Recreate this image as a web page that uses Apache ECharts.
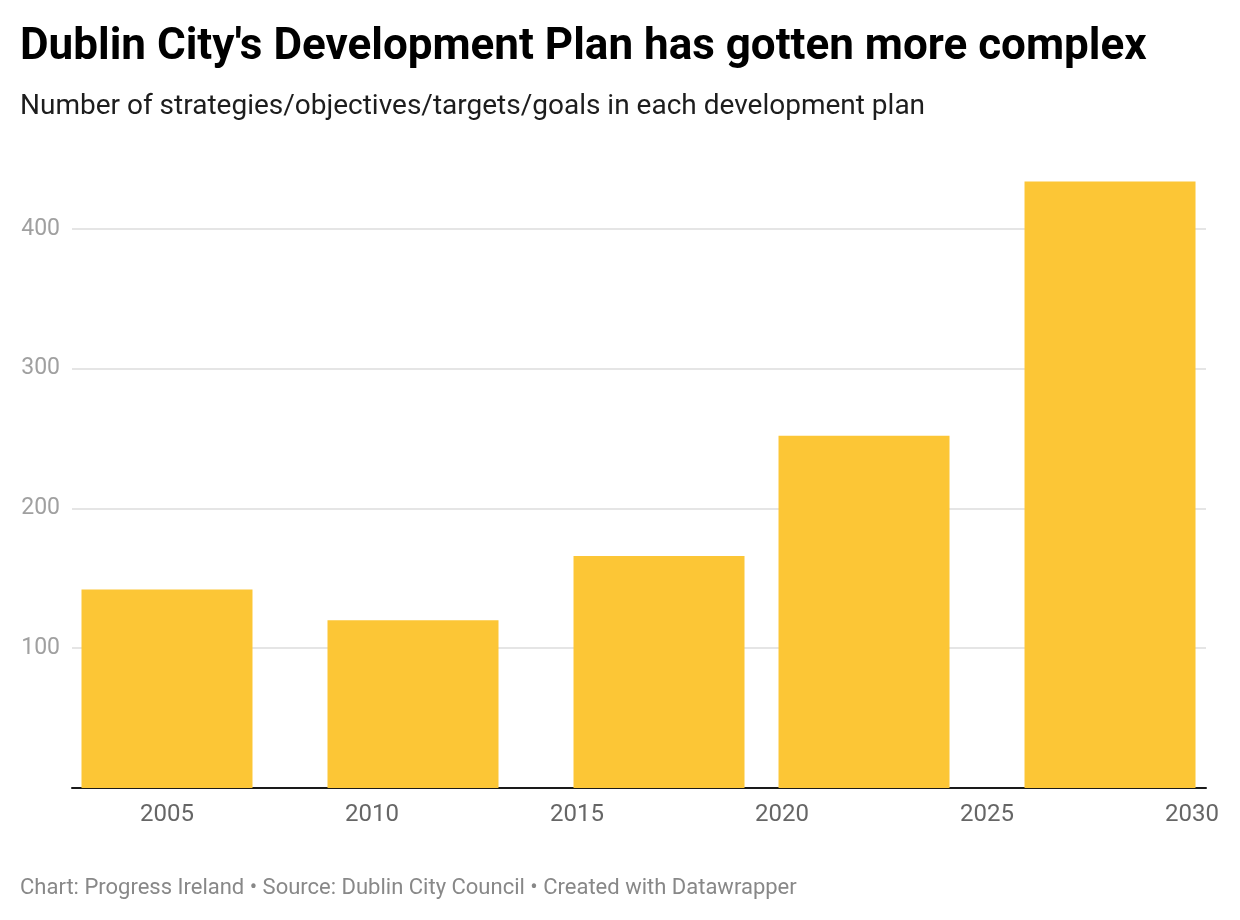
<!DOCTYPE html>
<html>
<head>
<meta charset="utf-8">
<title>Dublin City's Development Plan has gotten more complex</title>
<script src="https://cdn.jsdelivr.net/npm/echarts@6/dist/echarts.min.js"></script>
<style>
  html, body { margin: 0; padding: 0; background: #fff; }
  #chart { width: 1240px; height: 920px; }
</style>
</head>
<body>
<div id="chart"></div>
<script>
// plan end years and number of strategies/objectives/targets/goals
const planYears = [2005, 2011, 2017, 2022, 2028];
const itemCounts = [142, 120, 166, 252, 434];
const xTickLabels = [2005, 2010, 2015, 2020, 2025, 2030];
const yTickLabels = [100, 200, 300, 400];

const fontFamily = "Roboto, 'Noto Sans', sans-serif";

const chart = echarts.init(document.getElementById("chart"));

const option = {
  animation: false,
  backgroundColor: "#fff",
  textStyle: { fontFamily: fontFamily },
  title: [
    {
      text: "Dublin City's Development Plan has gotten more complex",
      left: 15,
      top: 21,
      textStyle: { fontFamily: fontFamily, fontSize: 44, fontWeight: "bold", color: "#000" }
    },
    {
      text: "Number of strategies/objectives/targets/goals in each development plan",
      left: 15,
      top: 88,
      textStyle: { fontFamily: fontFamily, fontSize: 28, fontWeight: "normal", color: "#1d1d1d" }
    },
    {
      text: "Chart: Progress Ireland • Source: Dublin City Council • Created with Datawrapper",
      left: 15,
      top: 872,
      textStyle: { fontFamily: fontFamily, fontSize: 22, fontWeight: "normal", color: "#888" }
    }
  ],
  grid: {
    left: 72,
    right: 34,
    top: 173,
    bottom: 132,
    containLabel: false
  },
  xAxis: {
    type: "value",
    min: 2002.683,
    max: 2030.341,
    axisLine: { show: true, onZero: false, lineStyle: { color: "#1a1a1a", width: 2 } },
    axisTick: { show: false, customValues: xTickLabels },
    splitLine: { show: false },
    axisLabel: {
      customValues: xTickLabels,
      fontSize: 24,
      color: "#666",
      margin: 15,
      formatter: v => String(v)
    }
  },
  yAxis: {
    type: "value",
    min: 0,
    max: 440,
    axisLine: { show: false },
    axisTick: { show: false, customValues: yTickLabels },
    splitLine: { show: true, lineStyle: { color: "#e5e5e5", width: 2 } },
    axisLabel: {
      customValues: yTickLabels,
      fontSize: 23,
      color: "#a0a0a0",
      margin: 12
    }
  },
  series: [
    {
      type: "bar",
      barWidth: 171,
      itemStyle: { color: "#fcc636" },
      data: planYears.map((y, i) => [y, itemCounts[i]]),
      z: 3
    }
  ]
};

chart.setOption(option);
</script>
</body>
</html>
